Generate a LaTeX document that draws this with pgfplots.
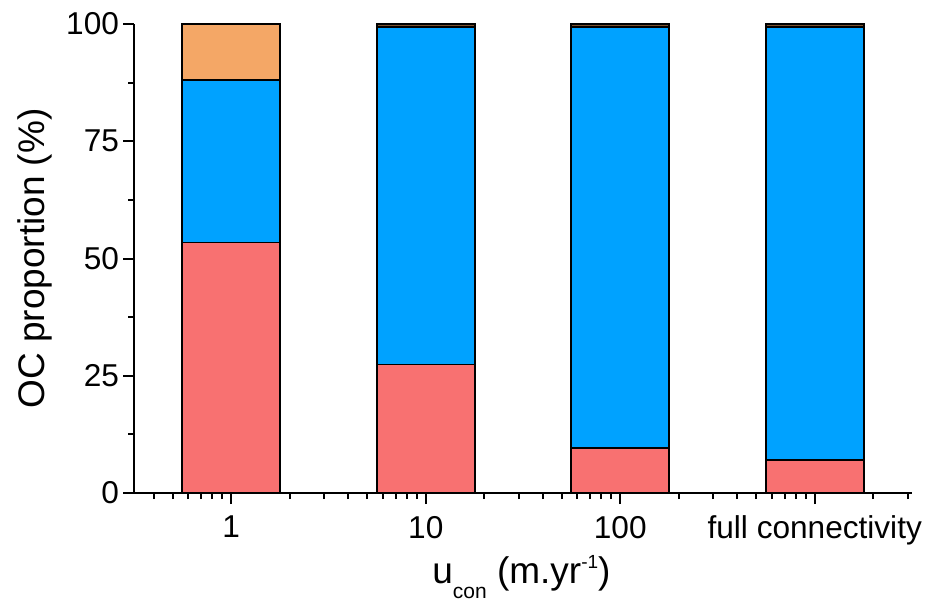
\documentclass[border=0pt]{standalone}
\usepackage{pgfplots}
\pgfplotsset{compat=1.18}
\usepackage{fontspec}
\setmainfont{Liberation Sans}
\definecolor{ocred}{HTML}{F87171}
\definecolor{ocblue}{HTML}{00A2FF}
\definecolor{ocorange}{HTML}{F4A766}
\definecolor{ocbrown}{HTML}{7B5230}
\begin{document}
\begin{tikzpicture}
\begin{axis}[
    scale only axis,
    width=389pt,
    height=234.5pt,
    xmode=log,
    xmin=0.3162, xmax=3162,
    ymin=0, ymax=100,
    axis lines=left,
    axis line style={-, line width=1.2pt},
    tick align=outside,
    tick style={black, line width=1pt},
    major tick length=5.5pt,
    minor tick length=3pt,
    xtick={1,10,100,1000},
    xticklabels={1,10,100,full connectivity},
    minor xtick={0.4,0.5,0.6,0.7,0.8,0.9,2,3,4,5,6,7,8,9,20,30,40,50,60,70,80,90,200,300,400,500,600,700,800,900,2000,3000},
    ytick={0,25,50,75,100},
    minor ytick={12.5,37.5,62.5,87.5},
    /pgf/number format/assume math mode=true,
    tick label style={font=\fontsize{15.8}{18}\selectfont},
    xticklabel style={yshift=-2.5pt},
    yticklabel style={xshift=1.5pt},
    ylabel={OC proportion (\%)},
    xlabel={u\raisebox{-0.4em}{\fontsize{10.5}{12}\selectfont con} (m.yr\raisebox{0.42em}{\fontsize{9.5}{11}\selectfont -1})},
    every axis y label/.style={at={(axis description cs:-0.1273,0.5)}, rotate=90, anchor=center, inner sep=0pt, font=\fontsize{18.5}{21}\selectfont},
    every axis x label/.style={at={(axis description cs:0.498,-0.194)}, anchor=base, inner sep=0pt, font=\fontsize{18.5}{21}\selectfont},
    ybar stacked,
    bar width=49pt,
    every axis plot/.append style={draw=black, line width=0.8pt},
    clip=false,
]
\addplot[fill=ocred] coordinates {(1,53.4) (10,27.4) (100,9.6) (1000,7.0)};
\addplot[fill=ocblue] coordinates {(1,34.7) (10,71.9) (100,89.8) (1000,92.4)};
\addplot[fill=ocorange] coordinates {(1,11.9) (10,0.2) (100,0.0) (1000,0.0)};
\addplot[fill=ocbrown] coordinates {(1,0.0) (10,0.5) (100,0.6) (1000,0.6)};
\end{axis}
\pgfresetboundingbox
\path ([xshift=-67pt,yshift=-54pt]current axis.south west) rectangle ([xshift=7.5pt,yshift=12pt]current axis.north east);
\end{tikzpicture}
\end{document}
